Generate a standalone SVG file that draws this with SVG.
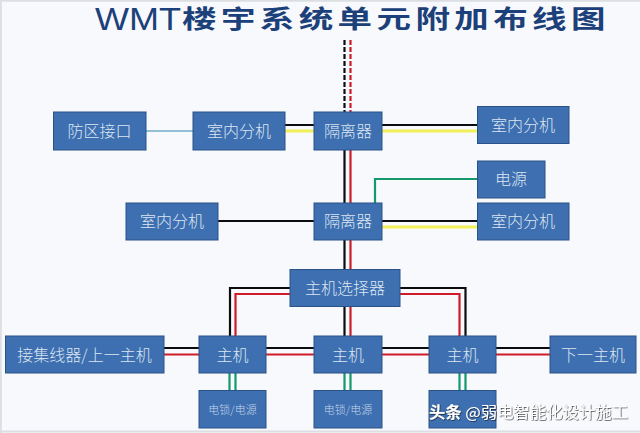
<svg xmlns="http://www.w3.org/2000/svg" width="640" height="433" viewBox="0 0 640 433">
<defs><filter id="sh" x="-5%" y="-30%" width="110%" height="160%"><feDropShadow dx="0.6" dy="0.6" stdDeviation="0.7" flood-color="#111" flood-opacity="0.95"/></filter></defs>
<style>
.b{fill:#3e6fb0;stroke:#2a5288;stroke-width:1}
.t{font-family:"Noto Sans CJK SC","Liberation Sans",sans-serif;font-size:16px;fill:#dce6f2;text-anchor:middle;font-weight:300}
.s{font-size:11px;fill:#c3d4ea}
.k{stroke:#0c0c0c}.r{stroke:#d01c28}.y{stroke:#f0ef5a}.g{stroke:#13996a}.c{stroke:#93bfd6}
#connectors path{fill:none;stroke-width:2.2}
.h{fill:#1c4079}
</style>
<rect width="640" height="433" fill="#f7f9fd"/>
<path d="M0.800 0V433M0 431.500H640M0 .8H640" stroke="#dcdee3" stroke-width="2" fill="none"/>
<g id="title">
<text class="h" x="95" y="30" font-size="32" textLength="86" lengthAdjust="spacingAndGlyphs" font-family="Liberation Sans, sans-serif">WMT</text>
<text class="h" transform="translate(182,28) scale(1.38,1)" x="0" y="0" font-size="25" font-weight="700" letter-spacing="3.2" font-family="Noto Sans CJK SC, sans-serif">楼宇系统单元附加布线图</text>
</g>
<g id="connectors">
<path class="k" stroke-dasharray="5 2" d="M344.500 40V112"/>
<path class="r" stroke-dasharray="5 2" d="M350.500 40V112"/>
<path class="c" d="M146 131H193"/>
<path class="k" d="M285 125H314M382 125H477.500M218 221H314M382 221H477.500"/>
<path class="y" d="M285 131H314M382 131H477.500M382 227H477.500" style="stroke-width:3"/>
<path class="k" d="M344.500 150V203M344.500 240V269M344.500 307V336"/>
<path class="r" d="M350.500 150V203M350.500 240V269M350.500 307V336"/>
<path class="g" d="M375 203V179H477.500"/>
<path class="k" d="M290 288H230V336M400 288H465.500V336"/>
<path class="r" d="M290 294H235.500V336M400 294H459.500V336"/>
<path class="k" d="M164 348H199M266 348H314M382 348H429M496 348H550"/>
<path class="r" d="M164 354.500H199M266 354.500H314M382 354.500H429M496 354.500H550"/>
<path class="g" d="M229.500 373V390M235.500 373V390M344.500 373V390M350.500 373V390M459.500 373V390M465.500 373V390"/>
</g>
<g id="n1"><rect class="b" x="53.500" y="112" width="92.500" height="38"/><text class="t" x="99.500" y="137">防区接口</text></g>
<g id="n2"><rect class="b" x="193" y="112" width="92" height="38"/><text class="t" x="239" y="137">室内分机</text></g>
<g id="n3"><rect class="b" x="314" y="112" width="68" height="38"/><text class="t" x="348" y="137">隔离器</text></g>
<g id="n4"><rect class="b" x="477.500" y="106.500" width="91.500" height="37"/><text class="t" x="523" y="131">室内分机</text></g>
<g id="n5"><rect class="b" x="477.500" y="161" width="67.500" height="37"/><text class="t" x="511" y="185">电源</text></g>
<g id="n6"><rect class="b" x="477.500" y="203" width="91.500" height="37"/><text class="t" x="523" y="227">室内分机</text></g>
<g id="n7"><rect class="b" x="314" y="203" width="68" height="37"/><text class="t" x="348" y="227">隔离器</text></g>
<g id="n8"><rect class="b" x="126" y="203" width="92" height="37"/><text class="t" x="172" y="227">室内分机</text></g>
<g id="n9"><rect class="b" x="290" y="269.500" width="110" height="37"/><text class="t" x="345" y="294">主机选择器</text></g>
<g id="n10"><rect class="b" x="5.500" y="336" width="158.500" height="37"/><text class="t" x="84.500" y="361">接集线器/上一主机</text></g>
<g id="n11"><rect class="b" x="199" y="336" width="67" height="37"/><text class="t" x="232.500" y="361">主机</text></g>
<g id="n12"><rect class="b" x="314" y="336" width="68" height="37"/><text class="t" x="348" y="361">主机</text></g>
<g id="n13"><rect class="b" x="429" y="336" width="67" height="37"/><text class="t" x="462.500" y="361">主机</text></g>
<g id="n14"><rect class="b" x="550" y="336" width="86" height="37"/><text class="t" x="593" y="361">下一主机</text></g>
<g id="n15"><rect class="b" x="199" y="390.500" width="67" height="37.500"/><text class="t s" x="232.500" y="414">电锁/电源</text></g>
<g id="n16"><rect class="b" x="314" y="390.500" width="68" height="37.500"/><text class="t s" x="348" y="414">电锁/电源</text></g>
<g id="n17"><rect class="b" x="429" y="390.500" width="67" height="37.500"/></g>
<g id="watermark" font-family="Noto Sans CJK SC, sans-serif" font-size="15.500" fill="#fff" filter="url(#sh)">
<text x="429" y="417.500" textLength="199" lengthAdjust="spacingAndGlyphs"><tspan font-weight="700">头条</tspan> @弱电智能化设计施工</text>
</g>
</svg>
